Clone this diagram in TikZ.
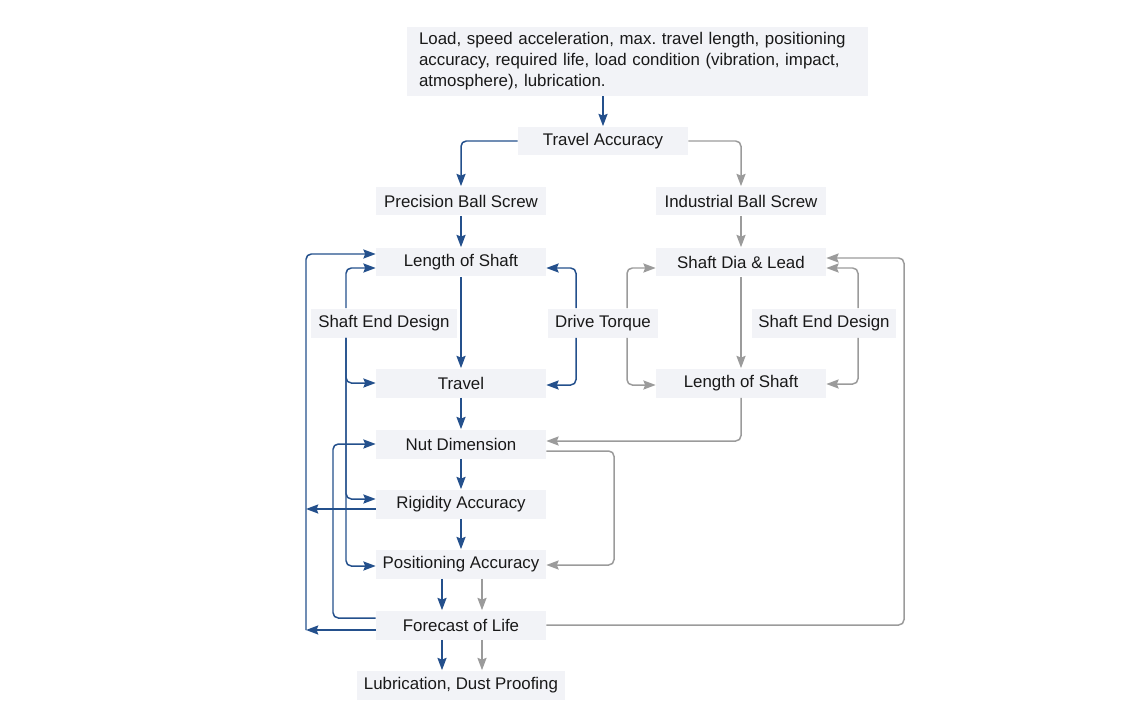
\documentclass[tikz,border=0pt]{standalone}
\usepackage{fontspec}
\setmainfont{Liberation Sans}
\usetikzlibrary{arrows.meta,calc}

\definecolor{flowblue}{HTML}{24508C}
\definecolor{flowgray}{HTML}{9B9B9B}
\definecolor{boxfill}{HTML}{F2F3F7}

\tikzset{
  box/.style={fill=boxfill, minimum width=3.4cm, minimum height=0.58cm, inner sep=0pt,
    font=\fontsize{9.6}{11.9}\selectfont, text=black!90},
  bl/.style={draw=flowblue, line width=0.85pt, rounded corners=3pt,
    -{Stealth[length=7pt,width=5.2pt,inset=1pt]}},
  gr/.style={draw=flowgray, line width=0.85pt, rounded corners=3pt,
    -{Stealth[length=7pt,width=5.2pt,inset=1pt]}}
}

\begin{document}
\frenchspacing
\begin{tikzpicture}[x=0.02cm,y=-0.02cm]
  \useasboundingbox (0,0) rectangle (1140,720);

  % inputs
  \node[box, minimum width=9.22cm, minimum height=1.38cm, text width=8.74cm,
        inner xsep=0.24cm, align=left] (req) at (637.5,61.5)
        {Load, speed acceleration, max. travel length, positioning\\
         accuracy, required life, load condition (vibration, impact,\\
         atmosphere), lubrication.};
  \node[box] (tacc) at (603,141) {Travel Accuracy};

  % precision branch
  \node[box] (pbs)  at (461,201) {Precision Ball Screw};
  \node[box] (lenL) at (461,262) {Length of Shaft};
  \node[box, minimum width=2.92cm] (sedL) at (384,323) {Shaft End Design};
  \node[box, minimum width=2.2cm] (dtq) at (603,323) {Drive Torque};
  \node[box] (trav) at (461,383) {Travel};
  \node[box] (nut)  at (461,444) {Nut Dimension};
  \node[box] (rig)  at (461,504) {Rigidity Accuracy};
  \node[box] (pos)  at (461,564) {Positioning Accuracy};
  \node[box] (fol)  at (461,625) {Forecast of Life};
  \node[box, minimum width=4.16cm] (lub) at (461,685) {Lubrication, Dust Proofing};

  % industrial branch
  \node[box] (ibs)  at (741,201) {Industrial Ball Screw};
  \node[box] (sdl)  at (741,262) {Shaft Dia \& Lead};
  \node[box, minimum width=2.88cm] (sedR) at (824,323) {Shaft End Design};
  \node[box] (lenR) at (741,383) {Length of Shaft};

  % routing columns
  \coordinate (cO) at (306,0);
  \coordinate (cI) at (333,0);
  \coordinate (cS) at (346,0);
  \coordinate (cB) at (442,0);
  \coordinate (cG) at (482,0);
  \coordinate (cD) at (576,0);
  \coordinate (cN) at (614,0);
  \coordinate (cT) at (627,0);
  \coordinate (cE) at (858,0);
  \coordinate (cF) at (904,0);
  \coordinate (fo1) at ($(fol.west)+(0,5)$);
  \coordinate (fo2) at ($(fol.west)+(0,-7)$);
  \coordinate (ri1) at ($(rig.west)+(0,5)$);
  \coordinate (nu1) at ($(nut.east)+(0,7)$);

  % blue flow
  \draw[bl] (tacc |- req.south) -- (tacc.north);
  \draw[bl] (tacc.west) -| (pbs.north);
  \draw[bl] (pbs) -- (lenL);
  \draw[bl] (lenL) -- (trav);
  \draw[bl] (trav) -- (nut);
  \draw[bl] (nut) -- (rig);
  \draw[bl] (rig) -- (pos);
  \draw[bl] (pos.south -| cB) -- (fol.north -| cB);
  \draw[bl] (fol.south -| cB) -- (lub.north -| cB);
  \draw[bl] (sedL.north -| cS) |- ($(lenL.west)+(0,6)$);
  \draw[bl] (sedL.south -| cS) |- (trav.west);
  \draw[bl] (sedL.south -| cS) |- ($(rig.west)+(0,-5)$);
  \draw[bl] (sedL.south -| cS) |- ($(pos.west)+(0,2)$);
  \draw[bl] (dtq.north -| cD) |- ($(lenL.east)+(0,6)$);
  \draw[bl] (dtq.south -| cD) |- ($(trav.east)+(0,2)$);
  \draw[bl] (fo1) -- (fo1 -| cO);
  \draw[bl] (ri1) -- (ri1 -| cO);
  \draw[bl] (cO |- fo1) |- ($(lenL.west)+(0,-8)$);
  \draw[bl] (fo2) -- (fo2 -| cI) |- (nut.west);

  % gray flow
  \draw[gr] (tacc.east) -| (ibs.north);
  \draw[gr] (ibs) -- (sdl);
  \draw[gr] (sdl) -- (lenR);
  \draw[gr] (dtq.north -| cT) |- ($(sdl.west)+(0,6)$);
  \draw[gr] (dtq.south -| cT) |- ($(lenR.west)+(0,2)$);
  \draw[gr] (sedR.north -| cE) |- ($(sdl.east)+(0,6)$);
  \draw[gr] (sedR.south -| cE) |- ($(lenR.east)+(0,1)$);
  \draw[gr] (lenR.south) |- ($(nut.east)+(0,-3)$);
  \draw[gr] (nu1) -- (nu1 -| cN) |- ($(pos.east)+(0,1)$);
  \draw[gr] (fol.east) -- (fol.east -| cF) |- ($(sdl.east)+(0,-4)$);
  \draw[gr] (pos.south -| cG) -- (fol.north -| cG);
  \draw[gr] (fol.south -| cG) -- (lub.north -| cG);
\end{tikzpicture}
\end{document}
